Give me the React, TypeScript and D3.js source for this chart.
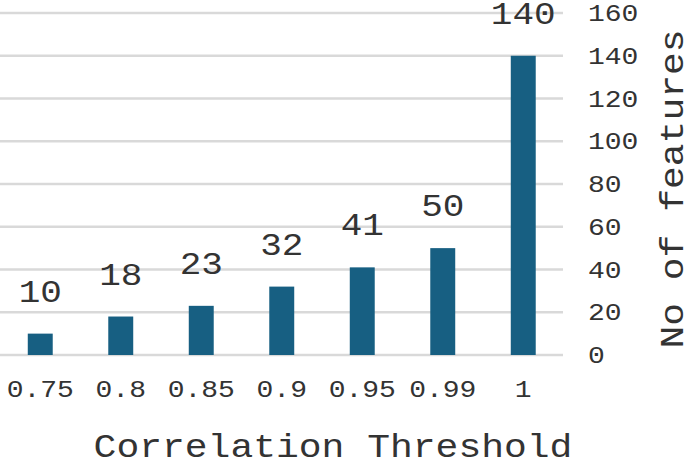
import React from "react";
import * as d3 from "d3";

const categories = ["0.75", "0.8", "0.85", "0.9", "0.95", "0.99", "1"];
const values = [10, 18, 23, 32, 41, 50, 140];
const yTicks = [0, 20, 40, 60, 80, 100, 120, 140, 160];
const xTitle = "Correlation Threshold";
const yTitle = "No of features";

const W = 685;
const H = 461;
const FONT = "'Courier New', 'Liberation Mono', monospace";
const SY = 0.87;

export default function App() {
  const x = d3
    .scaleBand<string>()
    .domain(categories)
    .range([0, 563.5])
    .paddingInner(0.69)
    .paddingOuter(0.345);
  const y = d3.scaleLinear().domain([0, 160]).range([355, 13]);

  const T = ({ tx, ty, size, anchor, children, rot }: any) => (
    <g transform={`translate(${tx},${ty})${rot ? ` rotate(${rot})` : ""} scale(1,${SY})`}>
      <text
        x={0}
        y={0}
        fontFamily={FONT}
        fontSize={size}
        textAnchor={anchor}
        fill="#333"
      >
        {children}
      </text>
    </g>
  );

  return (
    <svg
      width={W}
      height={H}
      style={{ position: "absolute", left: 0, top: 0, background: "#fff" }}
    >
      {yTicks.map((t) => (
        <line
          key={"g" + t}
          x1={0}
          x2={563}
          y1={y(t)}
          y2={y(t)}
          stroke="#d9d9d9"
          strokeWidth={2.5}
        />
      ))}
      {categories.map((c, i) => (
        <rect
          key={"b" + c}
          x={x(c)}
          y={y(values[i])}
          width={x.bandwidth()}
          height={y(0) - y(values[i])}
          fill="#175f82"
        />
      ))}
      {categories.map((c, i) => (
        <T
          key={"v" + c}
          tx={(x(c) as number) + x.bandwidth() / 2}
          ty={y(values[i]) - 32}
          size={36}
          anchor="middle"
        >
          {values[i]}
        </T>
      ))}
      {yTicks.map((t) => (
        <T key={"yt" + t} tx={588} ty={y(t) + 8} size={28} anchor="start">
          {t}
        </T>
      ))}
      {categories.map((c) => (
        <T
          key={"xt" + c}
          tx={(x(c) as number) + x.bandwidth() / 2}
          ty={397}
          size={28}
          anchor="middle"
        >
          {c}
        </T>
      ))}
      <T tx={333} ty={457} size={38} anchor="middle">
        {xTitle}
      </T>
      <T tx={683} ty={189} size={38} anchor="middle" rot={-90}>
        {yTitle}
      </T>
    </svg>
  );
}
